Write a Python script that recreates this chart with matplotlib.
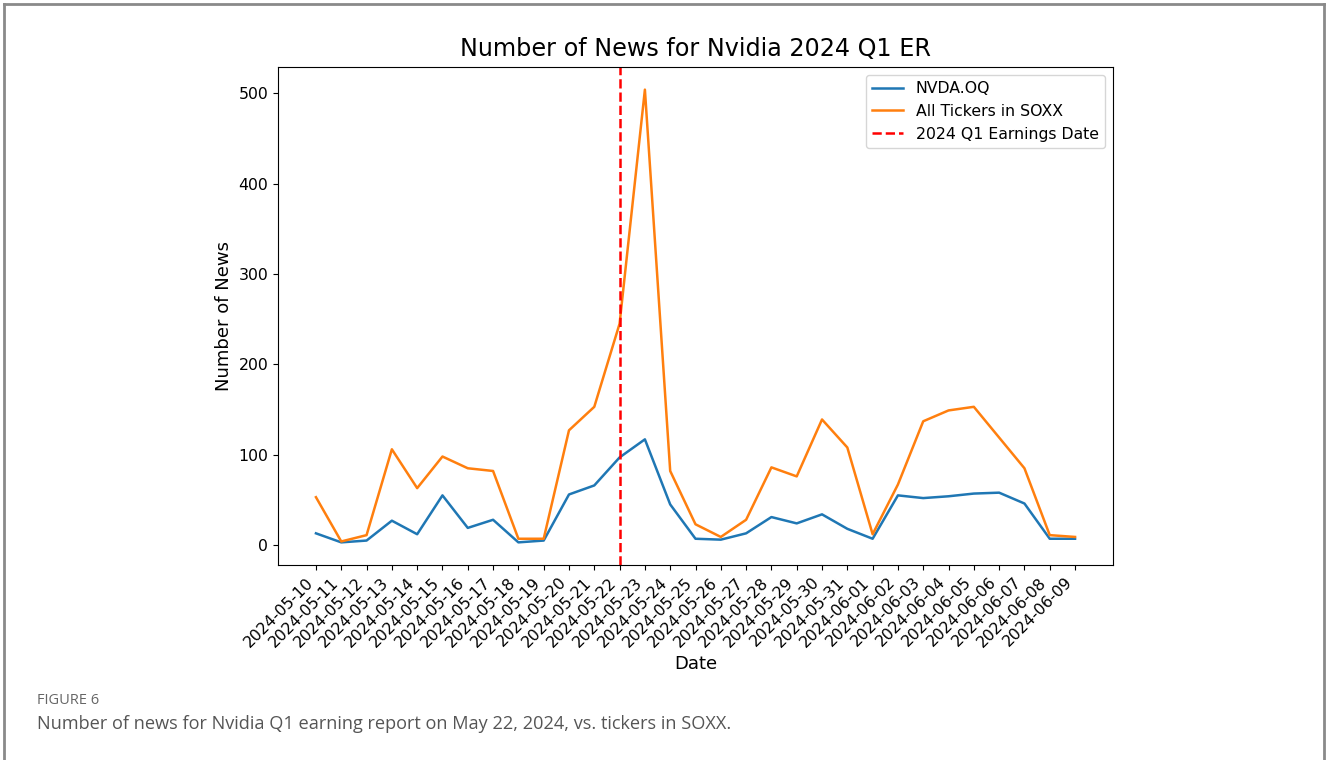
import matplotlib
matplotlib.use("Agg")
import matplotlib.pyplot as plt
from matplotlib.lines import Line2D

plt.rcParams['font.family'] = ['DejaVu Sans']

dates = ["2024-05-10", "2024-05-11", "2024-05-12", "2024-05-13", "2024-05-14",
         "2024-05-15", "2024-05-16", "2024-05-17", "2024-05-18", "2024-05-19",
         "2024-05-20", "2024-05-21", "2024-05-22", "2024-05-23", "2024-05-24",
         "2024-05-25", "2024-05-26", "2024-05-27", "2024-05-28", "2024-05-29",
         "2024-05-30", "2024-05-31", "2024-06-01", "2024-06-02", "2024-06-03",
         "2024-06-04", "2024-06-05", "2024-06-06", "2024-06-07", "2024-06-08",
         "2024-06-09"]

nvda = [13, 3, 5, 27, 12, 55, 19, 28, 3, 5, 56, 66, 97, 117, 45,
        7, 6, 13, 31, 24, 34, 18, 7, 55, 52, 54, 57, 58, 46, 7, 7]

soxx = [53, 4, 11, 106, 63, 98, 85, 82, 7, 7, 127, 153, 245, 504, 82,
        23, 9, 28, 86, 76, 139, 108, 12, 67, 137, 149, 153, 119, 85, 11, 9]

earnings_date = "2024-05-22"

W, H = 1327, 760
fig = plt.figure(figsize=(W / 100, H / 100), dpi=100)
ax = fig.add_axes([278 / W, 1 - 565 / H, (1113 - 278) / W, (565 - 67) / H])

x = list(range(len(dates)))
ax.plot(x, nvda, color="#1f77b4", linewidth=1.8, label="NVDA.OQ")
ax.plot(x, soxx, color="#ff7f0e", linewidth=1.8, label="All Tickers in SOXX")
ax.axvline(dates.index(earnings_date), color="red", linestyle="--", linewidth=1.8,
           label="2024 Q1 Earnings Date")

ax.set_xticks(x)
ax.set_xticklabels(dates, rotation=45, ha="right", fontsize=11.3)
ax.tick_params(axis="y", labelsize=11.3)
ax.set_yticks([0, 100, 200, 300, 400, 500])
ax.set_xlabel("Date", fontsize=13)
ax.set_ylabel("Number of News", fontsize=13)
ax.set_title("Number of News for Nvidia 2024 Q1 ER", fontsize=17.2, pad=8)
ax.legend(loc="upper right", fontsize=11.3)

# page frame around the figure
fig.add_artist(Line2D([4 / W, 4 / W], [0, 1 - 4 / H], color="#8a8a8a", linewidth=2))
fig.add_artist(Line2D([4 / W, 1324 / W], [1 - 4 / H, 1 - 4 / H], color="#8a8a8a", linewidth=2))
fig.add_artist(Line2D([1324 / W, 1324 / W], [0, 1 - 4 / H], color="#8a8a8a", linewidth=2))

fig.text(37 / W, 1 - 701 / H, "FIGURE 6", fontsize=10.5, color="#666666",
         family="Open Sans", va="center")
fig.text(37 / W, 1 - 724 / H,
         "Number of news for Nvidia Q1 earning report on May 22, 2024, vs. tickers in SOXX.",
         fontsize=13.1, color="#555555", family="Open Sans", va="center")

fig.savefig("out.png", dpi=100)
